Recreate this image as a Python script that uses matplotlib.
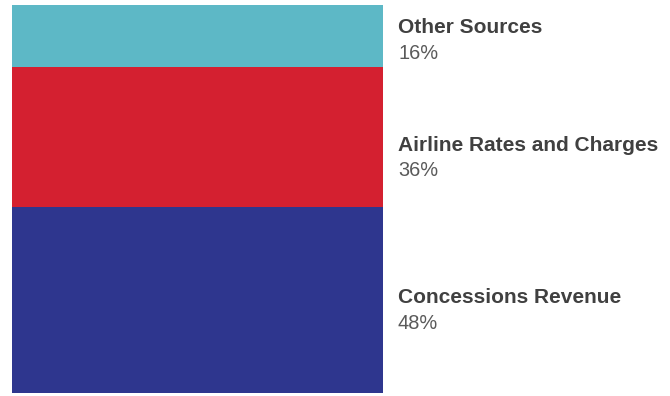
import matplotlib.pyplot as plt
from matplotlib.transforms import blended_transform_factory

# Fuentes de ingreso (de abajo hacia arriba en la barra)
sources = ['Concessions Revenue', 'Airline Rates and Charges', 'Other Sources']
shares = [48, 36, 16]
colors = ['#2E368E', '#D42030', '#5DB8C6']

# posición de la línea base del nombre respecto al centro del tramo
label_shift = [-0.8, -3.6, 0.8]

fig = plt.figure(figsize=(6.7, 3.96), dpi=100)
ax = fig.add_axes([12 / 670, 3 / 396, 371 / 670, 388 / 396])
ax.set_xlim(-0.5, 0.5)
ax.set_ylim(0, 100)
ax.axis('off')

# x en coordenadas de figura, y en coordenadas de datos
trans = blended_transform_factory(fig.transFigure, ax.transData)
text_x = 398 / 670

bottom = 0
for name, val, col, shift in zip(sources, shares, colors, label_shift):
    ax.bar(0, val, bottom=bottom, width=1, color=col, edgecolor='none')
    yc = bottom + val / 2 + shift
    ax.text(text_x, yc, name, transform=trans, fontsize=15, fontweight='bold',
            color='#404040', family='Liberation Sans', va='baseline', ha='left',
            clip_on=False)
    ax.text(text_x, yc - 6.6, f'{val}%', transform=trans, fontsize=14.4,
            color='#5A5A5A', family='Liberation Sans', va='baseline', ha='left',
            clip_on=False)
    bottom += val

fig.savefig('out.png', dpi=100)
